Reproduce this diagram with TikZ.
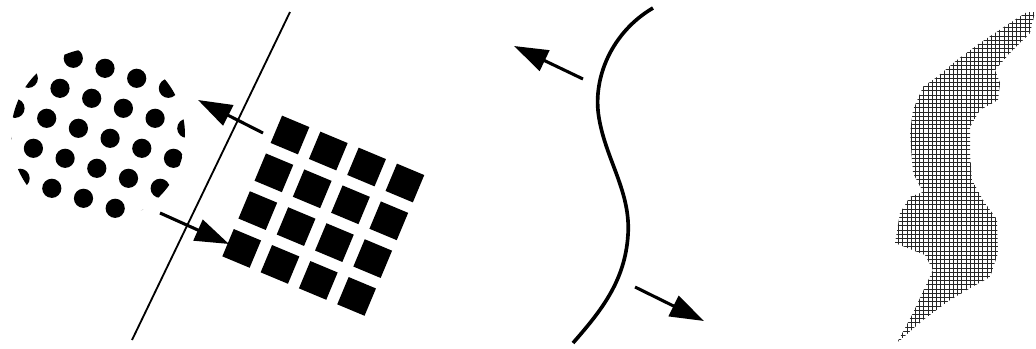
\documentclass[tikz,border=0pt]{standalone}
\usepackage{tikz}
\usetikzlibrary{arrows.meta, patterns, calc}
\tikzset{
    cutline/.style={draw, line width=1.3pt},
    wavefront/.style={draw, line width=2.6pt},
    dotcell/.style={fill=black},
    sqcell/.style={fill=black, rectangle, minimum size=7.4mm, inner sep=0pt, rotate=-22.7},
    bigarrow/.style={line width=2.2pt, -{Triangle[length=8.5mm, width=5.6mm]}},
    hatched/.style={pattern=grid, pattern color=black!85},
}

\begin{document}
\begin{tikzpicture}[x=0.25mm, y=-0.25mm]
    \useasboundingbox (0,0) rectangle (1036,348);

    % Dotted disc
    \begin{scope}
        \clip (98,135) circle (87);
        \foreach \i in {-4,...,4} {
            \foreach \j in {-4,...,4} {
                \fill[dotcell] ({91.7+\i*31.7-\j*13.3},{98.3+\i*10+\j*30}) circle (9.6);
            }
        }
    \end{scope}

    % Square grid
    \foreach \i in {0,...,3} {
        \foreach \j in {0,...,3} {
            \node[sqcell] (sq-\i-\j) at ({290+\i*38.3-\j*16.1},{135+\i*16+\j*37.8}) {};
        }
    }

    % Dividing line
    \coordinate (top) at (290,12);
    \coordinate (bot) at (132,340);
    \draw[cutline] (top) -- (bot);

    % Left arrows
    \coordinate (upstart) at (263,133);
    \coordinate (upend) at (198,100);
    \coordinate (downstart) at (160,213);
    \coordinate (downend) at (229,244);
    \draw[bigarrow] (upstart) -- (upend);
    \draw[bigarrow] (downstart) -- (downend);

    % Curved front
    \coordinate (fronttop) at (653,8);
    \coordinate (frontbot) at (573,343);
    \draw[wavefront] (fronttop) .. controls (612,32) and (592,78) .. (599,118)
        .. controls (606,160) and (631,192) .. (628,235)
        .. controls (625,282) and (600,312) .. (frontbot);

    % Middle arrows
    \coordinate (nwstart) at (583,79);
    \coordinate (nwend) at (514,46);
    \coordinate (sestart) at (635,287);
    \coordinate (seend) at (704,321);
    \draw[bigarrow] (nwstart) -- (nwend);
    \draw[bigarrow] (sestart) -- (seend);

    % Hatched strip
    \fill[hatched] (1035,12) -- (1030,33) -- (1010,53) -- (995,70) -- (1000,83)
        -- (998,100) -- (980,110) -- (970,127) -- (970,153) -- (972,180)
        -- (983,200) -- (997,220) -- (998,253) -- (990,277) -- (967,290)
        -- (950,300) -- (923,320) -- (897,343) -- (913,313) -- (933,270)
        -- (925,255) -- (895,243) -- (900,213) -- (910,197) -- (923,192)
        -- (913,173) -- (910,133) -- (913,110) -- (923,87) -- (937,77)
        -- (957,60) -- (980,43) -- (1010,23) -- (1027,12) -- cycle;
\end{tikzpicture}
\end{document}
